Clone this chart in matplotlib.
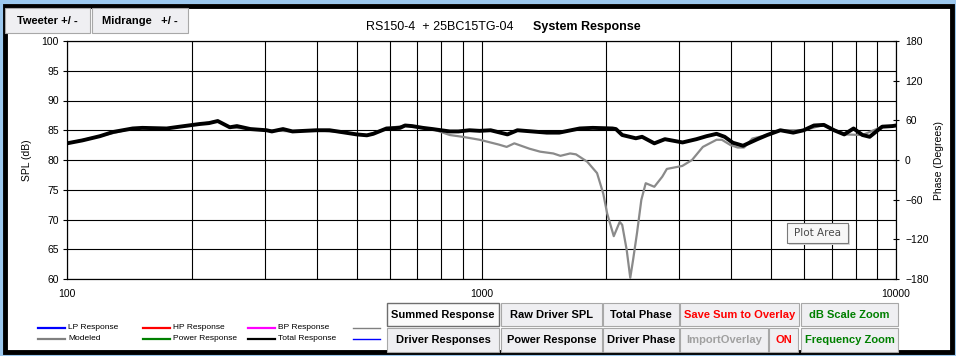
import numpy as np
import matplotlib.pyplot as plt
from matplotlib.patches import Rectangle
from matplotlib.lines import Line2D
from matplotlib.ticker import NullFormatter, FixedLocator

plt.rcParams['font.family'] = ['Liberation Sans', 'DejaVu Sans']

W, H = 956, 356

# Total (summed) response
freq_total = [100, 109, 120, 129, 144, 152, 174, 187, 209, 220, 231, 247, 257, 277,
              303, 312, 332, 350, 400, 430, 464, 500, 529, 548, 590, 636, 654, 680,
              722, 762, 838, 880, 935, 990, 1052, 1155, 1221, 1437, 1540, 1726, 1855,
              2070, 2110, 2185, 2357, 2440, 2612, 2770, 3055, 3300, 3490, 3690, 3860,
              4040, 4275, 4630, 4890, 5260, 5650, 5990, 6340, 6700, 7090, 7500, 7900,
              8300, 8640, 9260, 9800, 10000]
spl_total = [82.8, 83.3, 84.0, 84.7, 85.3, 85.4, 85.3, 85.6, 86.05, 86.2, 86.55, 85.5,
             85.7, 85.2, 85.0, 84.8, 85.2, 84.8, 85.0, 85.0, 84.65, 84.3, 84.15, 84.4,
             85.3, 85.4, 85.8, 85.7, 85.4, 85.2, 84.8, 84.8, 85.0, 84.9, 85.0, 84.3,
             85.0, 84.6, 84.6, 85.3, 85.4, 85.3, 85.2, 84.2, 83.65, 83.9, 82.8, 83.5,
             82.95, 83.5, 84.0, 84.4, 83.9, 82.9, 82.4, 83.5, 84.2, 85.0, 84.6, 85.0,
             85.8, 85.9, 85.0, 84.3, 85.3, 84.2, 83.9, 85.6, 85.7, 85.8]

# Modeled response (grey), hidden under the total below ~760 Hz
freq_model = [100, 120, 144, 174, 209, 231, 247, 277, 303, 350, 400, 464, 529, 590,
              654, 722, 762, 838, 900, 990, 1100, 1150, 1200, 1305, 1385, 1490, 1550,
              1636, 1690, 1800, 1900, 1966, 2010, 2085, 2155, 2185, 2240, 2285, 2321,
              2372, 2430, 2490, 2612, 2730, 2800, 3050, 3220, 3420, 3690, 3800, 3990,
              4150, 4300, 4500, 4890, 5260, 5990, 6700, 7500, 8300, 9260, 10000]
spl_model = [82.8, 84.0, 85.3, 85.3, 86.05, 86.55, 85.5, 85.2, 85.0, 84.8, 85.0, 84.65,
             84.15, 85.3, 85.8, 85.4, 85.2, 84.2, 83.9, 83.4, 82.6, 82.2, 82.8, 81.9,
             81.4, 81.1, 80.7, 81.1, 80.95, 79.7, 77.8, 74.4, 71.0, 67.2, 69.6, 69.1,
             64.9, 60.2, 63.2, 67.7, 73.3, 76.1, 75.5, 77.2, 78.5, 79.0, 80.0, 82.2,
             83.4, 83.4, 82.5, 82.1, 82.1, 83.6, 84.2, 85.0, 85.0, 85.9, 84.3, 84.2,
             85.6, 85.8]

spl_ticks = [60, 65, 70, 75, 80, 85, 90, 95, 100]
phase_ticks = [-180, -120, -60, 0, 60, 120, 180]
freq_ticks = [100, 1000, 10000]
freq_labels = ['100', '1000', '10000']

legend_names = ['LP Response', 'HP Response', 'BP Response', '',
                'Modeled', 'Power Response', 'Total Response', '']
legend_colors = ['#0000ff', '#ff0000', '#ff00ff', '#808080',
                 '#808080', '#008000', '#000000', '#0000ff']

button_labels = ['Summed Response', 'Raw Driver SPL', 'Total Phase', 'Save Sum to Overlay',
                 'dB Scale Zoom', 'Driver Responses', 'Power Response', 'Driver Phase',
                 'ImportOverlay', 'ON', 'Frequency Zoom']
button_colors = ['black', 'black', 'black', '#ff0000', '#008000',
                 'black', 'black', 'black', '#a0a0a0', '#ff0000', '#008000']


def fx(x):
    return x / W


def fy(y):
    return 1 - y / H


fig = plt.figure(figsize=(W / 100, H / 100), dpi=100)
fig.patch.set_facecolor('white')

# window frame
fig.patches.append(Rectangle((0, 0), 1, 1, transform=fig.transFigure, fill=False,
                             edgecolor='#9cc8ee', lw=5))
fig.patches.append(Rectangle((fx(4.5), fy(351.5)), fx(947), 346 / H, transform=fig.transFigure,
                             fill=False, edgecolor='black', lw=3.5))

ax = fig.add_axes([fx(67), fy(279), (896 - 67) / W, (279 - 41) / H])
ax.set_xscale('log')
ax.set_xlim(100, 10000)
ax.set_ylim(60, 100)

ax.plot(freq_model, spl_model, color='#8a8a8a', lw=1.6, zorder=3)
ax.plot(freq_total, spl_total, color='black', lw=2.8, zorder=4)

ax.xaxis.set_major_locator(FixedLocator(freq_ticks))
ax.set_xticklabels(freq_labels)
ax.xaxis.set_minor_formatter(NullFormatter())
ax.tick_params(axis='x', which='both', length=0, pad=7, labelsize=7.5)
ax.set_yticks(spl_ticks)
ax.tick_params(axis='y', direction='out', length=3, width=0.8, pad=3, labelsize=7.5)
ax.grid(which='both', axis='x', color='black', lw=0.8)
ax.grid(which='major', axis='y', color='black', lw=0.8)
ax.set_axisbelow(True)
for s in ax.spines.values():
    s.set_linewidth(0.8)
ax.set_ylabel('SPL (dB)', fontsize=7.5, labelpad=7)

ax2 = ax.twinx()
ax2.set_ylim(-180, 180)
ax2.set_yticks(phase_ticks)
ax2.tick_params(axis='y', direction='inout', length=5, width=0.8, pad=4, labelsize=7.5)
ax2.set_ylabel('Phase (Degrees)', fontsize=7.5, labelpad=4)
for s in ax2.spines.values():
    s.set_linewidth(0.8)

# title
fig.text(fx(513), fy(27), 'RS150-4  + 25BC15TG-04', ha='right', va='center', fontsize=9)
fig.text(fx(533), fy(27), 'System Response', ha='left', va='center', fontsize=9,
         fontweight='bold')


def button(x0, y0, x1, y1, label, color='black', pressed=False):
    face = '#fbfbfb' if pressed else '#efeff2'
    edge = '#6e6e6e' if pressed else '#a8a8a8'
    fig.patches.append(Rectangle((fx(x0), fy(y1)), (x1 - x0) / W, (y1 - y0) / H,
                                 transform=fig.transFigure, facecolor=face,
                                 edgecolor=edge, lw=1.0 if pressed else 0.8))
    fig.text(fx((x0 + x1) / 2), fy((y0 + y1) / 2), label, ha='center', va='center',
             fontsize=8, fontweight='bold', color=color)


button(5, 8, 90, 33, 'Tweeter +/ -')
button(92, 8, 188, 33, 'Midrange   +/ -')

cols = [(387, 499), (501, 602), (603, 679), (680, 799), (801, 898)]
rows = [(303, 326), (328, 352)]
row2_cols = [(387, 499), (501, 602), (603, 679), (680, 768), (769, 798), (801, 898)]
for i, (x0, x1) in enumerate(cols):
    button(x0, rows[0][0], x1, rows[0][1], button_labels[i], button_colors[i],
           pressed=(i == 0))
for j, (x0, x1) in enumerate(row2_cols):
    k = len(cols) + j
    button(x0, rows[1][0], x1, rows[1][1], button_labels[k], button_colors[k])

# legend
leg_x = [38, 143, 248, 353]
leg_y = [327.5, 338.5]
for n, (name, col) in enumerate(zip(legend_names, legend_colors)):
    r, c = divmod(n, 4)
    x0 = leg_x[c]
    y = fy(leg_y[r])
    fig.lines.append(Line2D([fx(x0), fx(x0 + 27)], [y, y], transform=fig.transFigure,
                            color=col, lw=1.6 if c < 3 else 1.0))
    if name:
        fig.text(fx(x0 + 30), y, name, ha='left', va='center', fontsize=6)

# tooltip
fig.patches.append(Rectangle((fx(789), fy(245)), 61 / W, 20 / H, transform=fig.transFigure,
                             facecolor='#d8d8d8', edgecolor='none'))
fig.patches.append(Rectangle((fx(787), fy(243)), 61 / W, 20 / H, transform=fig.transFigure,
                             facecolor='#f7f7f7', edgecolor='#7a7a7a', lw=0.8))
fig.text(fx(817.5), fy(233), 'Plot Area', ha='center', va='center', fontsize=7.5,
         color='#4a4a4a', family=['DejaVu Sans'])

fig.savefig('out.png', dpi=100)
